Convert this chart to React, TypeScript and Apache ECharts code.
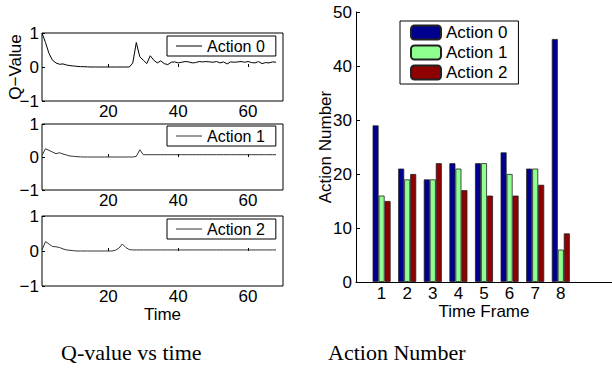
import React, { useEffect, useRef } from "react";
import * as echarts from "echarts";

// ---------- data ----------
const timeSteps: number[] = Array.from({ length: 68 }, (_, i) => i + 1);

const action0Q = [
  1.0, 0.72, 0.4, 0.2, 0.12, 0.08, 0.09, 0.06, 0.04, 0.03,
  0.02, 0.01, 0.01, 0.005, 0, 0, 0, 0, 0, 0,
  0, 0, 0, 0, 0, 0, 0.12, 0.72, 0.3, 0.2,
  0.1, 0.33, 0.2, 0.12, 0.18, 0.1, 0.07, 0.14, 0.15, 0.12,
  0.14, 0.16, 0.15, 0.12, 0.13, 0.16, 0.15, 0.16, 0.15, 0.14,
  0.16, 0.12, 0.15, 0.09, 0.15, 0.14, 0.15, 0.16, 0.14, 0.16,
  0.13, 0.12, 0.16, 0.1, 0.13, 0.12, 0.15, 0.14,
];
const action1Q = [
  0.05, 0.25, 0.2, 0.15, 0.1, 0.13, 0.09, 0.06, 0.03, 0.02,
  0.01, 0.005, 0, 0, 0, 0, 0, 0, 0, 0,
  0, 0, 0, 0, 0, 0, 0, 0.02, 0.22, 0.07,
  0.07, 0.07, 0.07, 0.07, 0.07, 0.07, 0.07, 0.07, 0.07, 0.07,
  0.07, 0.07, 0.07, 0.07, 0.07, 0.07, 0.07, 0.07, 0.07, 0.07,
  0.07, 0.07, 0.07, 0.07, 0.07, 0.07, 0.07, 0.07, 0.07, 0.07,
  0.07, 0.07, 0.07, 0.07, 0.07, 0.07, 0.07, 0.07,
];
const action2Q = [
  0.03, 0.27, 0.2, 0.13, 0.12, 0.1, 0.06, 0.03, 0.02, 0.01,
  0, 0, 0, 0, 0, 0, 0, 0, 0, 0,
  0, 0.02, 0.08, 0.2, 0.1, 0.04, 0.03, 0.03, 0.03, 0.03,
  0.03, 0.03, 0.03, 0.03, 0.03, 0.03, 0.03, 0.03, 0.03, 0.03,
  0.03, 0.03, 0.03, 0.03, 0.03, 0.03, 0.03, 0.03, 0.03, 0.03,
  0.03, 0.03, 0.03, 0.03, 0.03, 0.03, 0.03, 0.03, 0.03, 0.03,
  0.03, 0.03, 0.03, 0.03, 0.03, 0.03, 0.03, 0.03,
];

const timeTicks = [20, 40, 60];
const frames = [1, 2, 3, 4, 5, 6, 7, 8];
const action0Count = [29, 21, 19, 22, 22, 24, 21, 45];
const action1Count = [16, 19, 19, 21, 22, 20, 21, 6];
const action2Count = [15, 20, 22, 17, 16, 16, 18, 9];
const actionNames = ["Action 0", "Action 1", "Action 2"];
const barColors = ["#00008F", "#8FFF8F", "#8F0000"];
const leftCaption = "Q-value vs time";
const rightCaption = "Action Number";

const SANS = "'Liberation Sans', Arial, Helvetica, sans-serif";
const SERIF = "'Liberation Serif', 'Times New Roman', serif";

export default function App() {
  const ref = useRef<HTMLDivElement>(null);

  useEffect(() => {
    if (!ref.current) return;
    const chart = echarts.init(ref.current, undefined, { renderer: "svg" });

    const qSeries = [action0Q, action1Q, action2Q];
    const lineColors = ["#000", "#333", "#333"];
    const grids = [
      { left: 42, top: 33, width: 241, height: 68 },
      { left: 42, top: 124, width: 241, height: 66 },
      { left: 42, top: 216, width: 241, height: 70 },
    ];
    const legendTops = [36, 126, 219];

    const minusFmt = (v: number) => String(v).replace("-", "\u2212");
    const nameStyle = { fontSize: 17, lineHeight: 15, color: "#000", fontFamily: SANS };

    const gridOpts: any[] = grids.map((g) => ({
      ...g,
      show: true,
      borderColor: "#000",
      borderWidth: 1,
      containLabel: false,
    }));
    gridOpts.push({ left: 356, top: 12, width: 260, height: 270, containLabel: false });

    const xAxes: any[] = grids.map((_, i) => ({
      type: "value",
      gridIndex: i,
      min: 1,
      max: 70,
      axisLine: { show: false },
      axisTick: { show: true, inside: true, length: 3, customValues: timeTicks, lineStyle: { color: "#000" } },
      axisLabel: { customValues: timeTicks, fontSize: 17, lineHeight: 15, color: "#000", fontFamily: SANS, margin: 3 },
      splitLine: { show: false },
      name: i === 2 ? "Time" : "",
      nameLocation: "middle",
      nameGap: 21,
      nameMoveOverlap: false,
      nameTextStyle: nameStyle,
    }));
    xAxes.push({
      type: "value",
      gridIndex: 3,
      min: 0,
      max: 10,
      axisLine: { show: true, lineStyle: { color: "#000", width: 1 } },
      axisTick: { show: true, inside: true, length: 3, customValues: frames, lineStyle: { color: "#000" } },
      axisLabel: { customValues: frames, fontSize: 17, lineHeight: 15, color: "#000", fontFamily: SANS, margin: 4 },
      splitLine: { show: false },
      name: "Time Frame",
      nameLocation: "middle",
      nameGap: 22,
      nameMoveOverlap: false,
      nameTextStyle: nameStyle,
    });

    const yAxes: any[] = grids.map((_, i) => ({
      type: "value",
      gridIndex: i,
      min: -1,
      max: 1,
      interval: 1,
      axisLine: { show: false },
      axisTick: { show: true, inside: true, length: 3, lineStyle: { color: "#000" } },
      axisLabel: { fontSize: 17, color: "#000", fontFamily: SANS, margin: 3, formatter: minusFmt },
      splitLine: { show: false },
      name: i === 0 ? "Q\u2212Value" : "",
      nameLocation: "middle",
      nameGap: 19,
      nameMoveOverlap: false,
      nameTextStyle: nameStyle,
    }));
    yAxes.push({
      type: "value",
      gridIndex: 3,
      min: 0,
      max: 50,
      interval: 10,
      axisLine: { show: true, lineStyle: { color: "#000", width: 1 } },
      axisTick: { show: true, inside: true, length: 4, lineStyle: { color: "#000" } },
      axisLabel: { fontSize: 17, color: "#000", fontFamily: SANS, margin: 4 },
      splitLine: { show: false },
      name: "Action Number",
      nameLocation: "middle",
      nameGap: 23,
      nameMoveOverlap: false,
      nameTextStyle: nameStyle,
    });

    const series: any[] = qSeries.map((vals, i) => ({
      type: "line",
      name: "Q " + actionNames[i],
      xAxisIndex: i,
      yAxisIndex: i,
      data: timeSteps.map((t, k) => [t, vals[k]]),
      symbol: "none",
      lineStyle: { color: lineColors[i], width: 1 },
      itemStyle: { color: lineColors[i] },
    }));
    const counts = [action0Count, action1Count, action2Count];
    counts.forEach((vals, i) => {
      series.push({
        type: "bar",
        name: actionNames[i],
        xAxisIndex: 3,
        yAxisIndex: 3,
        barWidth: 6,
        barGap: "0%",
        data: frames.map((f, k) => [f, vals[k]]),
        itemStyle: { color: barColors[i], borderColor: "#222", borderWidth: 0.8 },
      });
    });

    const legends: any[] = qSeries.map((_, i) => ({
      data: [{ name: "Q " + actionNames[i], icon: "rect", itemStyle: { color: lineColors[i], borderWidth: 0 } }],
      formatter: (n: string) => n.replace(/^Q /, ""),
      orient: "vertical",
      left: 167,
      top: legendTops[i],
      padding: [2, 11, 2, 9],
      itemWidth: 26,
      itemHeight: 1,
      itemGap: 9,
      borderColor: "#000",
      borderWidth: 1,
      backgroundColor: "#fff",
      selectedMode: false,
      textStyle: { fontSize: 16, color: "#000", fontFamily: SANS },
    }));
    legends.push({
      data: actionNames,
      orient: "vertical",
      left: 400,
      top: 21,
      padding: [3, 11, 3, 10],
      itemWidth: 30,
      itemHeight: 14,
      itemGap: 3,
      borderColor: "#000",
      borderWidth: 1,
      backgroundColor: "#fff",
      selectedMode: false,
      textStyle: { fontSize: 17, color: "#000", fontFamily: SANS },
    });

    chart.setOption({
      animation: false,
      backgroundColor: "#fff",
      grid: gridOpts,
      xAxis: xAxes,
      yAxis: yAxes,
      legend: legends,
      series,
      graphic: [
        {
          type: "text",
          left: 132 - 71,
          top: 341,
          style: { text: leftCaption, font: `22px ${SERIF}`, fill: "#000" },
        },
        {
          type: "text",
          left: 398 - 70,
          top: 341,
          style: { text: rightCaption, font: `22px ${SERIF}`, fill: "#000" },
        },
      ],
    });

    return () => chart.dispose();
  }, []);

  return (
    <div
      ref={ref}
      style={{ position: "absolute", left: 0, top: 0, width: 612, height: 368, background: "#fff" }}
    />
  );
}
